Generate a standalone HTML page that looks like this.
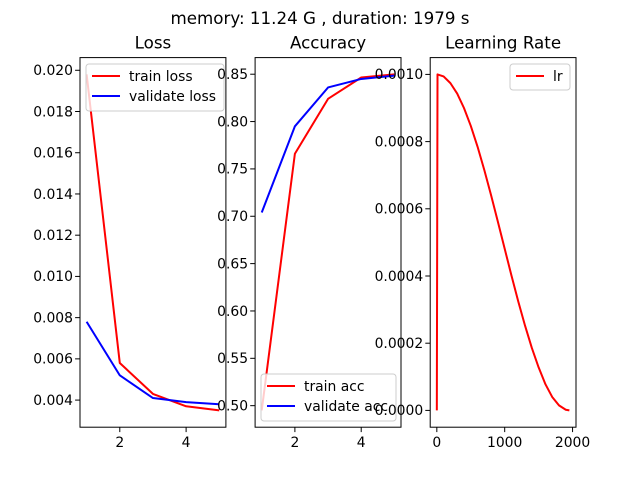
<!DOCTYPE html>
<html><head><meta charset="utf-8"><style>
body{margin:0;background:#fff}
svg{display:block;font-family:"DejaVu Sans","Liberation Sans",sans-serif}
</style></head><body>
<svg id="fig" width="640" height="480" viewBox="0 0 640 480">
<rect width="640" height="480" fill="#fff"/>
<text x="320" y="24" font-size="16.7" text-anchor="middle">memory: 11.24 G , duration: 1979 s</text>
</svg>
<script>
const epochs=[1,2,3,4,5];
const trainLoss=[0.0198,0.0058,0.0043,0.0037,0.0035];
const valLoss=[0.0078,0.0052,0.0041,0.0039,0.0038];
const trainAcc=[0.495,0.766,0.824,0.8465,0.8498];
const valAcc=[0.704,0.795,0.836,0.845,0.8485];
const lrSteps=[0,10,100,200,300,400,500,600,700,800,900,1000,1100,1200,1300,1400,1500,1600,1700,1800,1900,1953];
const lrVals=[0,0.001,0.000994,0.000974,0.000943,0.0009,0.000847,0.000785,0.000715,0.00064,0.000561,0.000481,0.000401,0.000324,0.000252,0.000186,0.000128,0.000078,0.00004,0.000015,0.000002,0];
const lossYTicks=[0.004,0.006,0.008,0.010,0.012,0.014,0.016,0.018,0.020];
const accYTicks=[0.50,0.55,0.60,0.65,0.70,0.75,0.80,0.85];
const lrYTicks=[0,0.0002,0.0004,0.0006,0.0008,0.0010];
const epochTicks=[2,4];
const lrXTicks=[0,1000,2000];

const NS="http://www.w3.org/2000/svg";
const svg=document.getElementById('fig');
function mk(tag,attrs,parent){const e=document.createElementNS(NS,tag);for(const k in attrs)e.setAttribute(k,attrs[k]);(parent||svg).appendChild(e);return e;}
const T=57.6,B=427.2;
function lim(arrs){let mn=Infinity,mx=-Infinity;arrs.forEach(a=>a.forEach(v=>{mn=Math.min(mn,v);mx=Math.max(mx,v);}));const m=(mx-mn)*0.05;return [mn-m,mx+m];}
function panel(name,L,R,xs,series,yt,yd,xt,title,legend){
  const g=mk('g',{});
  
  
  const [x0,x1]=lim(xs);const [y0,y1]=lim(series.map(s=>s.y));
  const X=v=>L+(v-x0)/(x1-x0)*(R-L);
  const Y=v=>B-(v-y0)/(y1-y0)*(B-T);
  series.forEach(s=>{
    const p=mk('polyline',{points:s.x.map((v,i)=>X(v)+','+Y(s.y[i])).join(' '),fill:'none',stroke:s.c,'stroke-width':2,'stroke-linejoin':'round'},g);
    
    
  });
  const fr=mk('rect',{x:L,y:T,width:R-L,height:B-T,fill:'none',stroke:'#000','stroke-width':1},g);
  
  
  yt.forEach(v=>{const y=Y(v);mk('line',{x1:L,x2:L-4.9,y1:y,y2:y,stroke:'#000','stroke-width':1},g);
    const t=mk('text',{x:L-7,y:y+4.8,'font-size':13.9,'text-anchor':'end'},g);t.textContent=v.toFixed(yd);
    
    });
  xt.forEach(v=>{const x=X(v);mk('line',{x1:x,x2:x,y1:B,y2:B+4.9,stroke:'#000','stroke-width':1},g);
    const t=mk('text',{x:x,y:B+20,'font-size':13.9,'text-anchor':'middle'},g);t.textContent=v;
    
    });
  const tt=mk('text',{x:(L+R)/2,y:T-9,'font-size':16.7,'text-anchor':'middle'},g);tt.textContent=title;
  
  
  const lg=mk('g',{},g);
  
  
  mk('rect',{x:legend.x,y:legend.y,width:legend.w,height:legend.h,rx:3,fill:'#fff','fill-opacity':0.8,stroke:'#ccc','stroke-width':1},lg);
  series.forEach((s,i)=>{const yy=legend.y+12+i*20;
    mk('line',{x1:legend.x+6,x2:legend.x+34,y1:yy,y2:yy,stroke:s.c,'stroke-width':2},lg);
    const t=mk('text',{x:legend.x+43,y:yy+4.8,'font-size':13.9},lg);t.textContent=s.label;
    
    });
}
panel('loss',80,225.9,[epochs],[{x:epochs,y:trainLoss,c:'#f00',n:'train-loss-line',label:'train loss'},{x:epochs,y:valLoss,c:'#00f',n:'validate-loss-line',label:'validate loss'}],lossYTicks,3,epochTicks,'Loss',{x:86,y:64,w:138,h:47});
panel('accuracy',255.1,401,[epochs],[{x:epochs,y:trainAcc,c:'#f00',n:'train-acc-line',label:'train acc'},{x:epochs,y:valAcc,c:'#00f',n:'validate-acc-line',label:'validate acc'}],accYTicks,2,epochTicks,'Accuracy',{x:261,y:374,w:135,h:47});
panel('lr',430.2,576,[lrSteps],[{x:lrSteps,y:lrVals,c:'#f00',n:'lr-line',label:'lr'}],lrYTicks,4,lrXTicks,'Learning Rate',{x:510,y:64,w:60,h:26});
</script>
</body></html>
